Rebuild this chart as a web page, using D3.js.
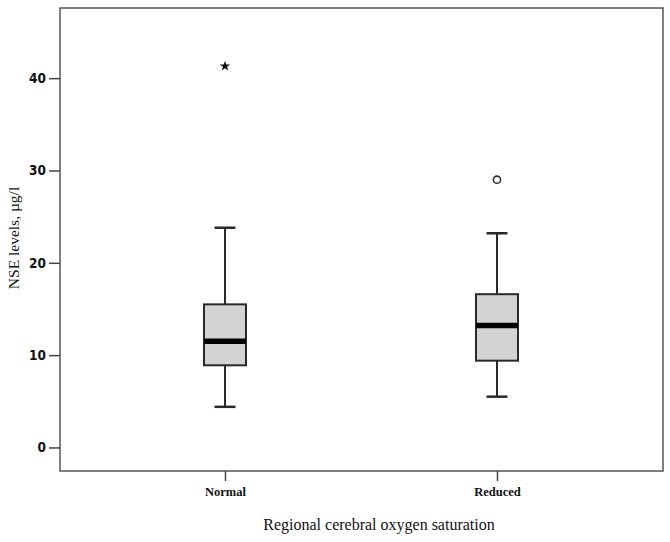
<!DOCTYPE html>
<html>
<head>
<meta charset="utf-8">
<script src="https://cdn.jsdelivr.net/npm/d3@7"></script>
<style>
  body { margin: 0; background: #fff; }
  svg { display: block; }
</style>
</head>
<body>
<svg id="chart" width="670" height="542"></svg>
<script>
// box statistics (ug/l)
var groups = ['Normal', 'Reduced'];
var whiskerLow = [4.4, 5.5];
var q1 = [8.9, 9.4];
var median = [11.5, 13.2];
var q3 = [15.5, 16.6];
var whiskerHigh = [23.8, 23.2];
// outliers: star = extreme, circle = mild
var outliers = [
  {group: 'Normal', value: 41.3, type: 'extreme'},
  {group: 'Reduced', value: 29.0, type: 'mild'}
];
var yTicks = [0, 10, 20, 30, 40];

var svg = d3.select('#chart');
var frame = {left: 60, top: 8, right: 663, bottom: 471};

var y = d3.scaleLinear()
  .domain([-2.55, 47.6])
  .range([frame.bottom, frame.top]);

var x = d3.scalePoint()
  .domain(groups)
  .range([225, 497]);

var boxW = 42;
var capW = 21;
var ink = '#2a2a2a';

var boxes = groups.map(function(g, i) {
  return {
    group: g,
    lo: whiskerLow[i],
    q1: q1[i],
    med: median[i],
    q3: q3[i],
    hi: whiskerHigh[i]
  };
});

// frame
svg.append('rect')
  .attr('x', frame.left)
  .attr('y', frame.top)
  .attr('width', frame.right - frame.left)
  .attr('height', frame.bottom - frame.top)
  .attr('fill', 'none')
  .attr('stroke', '#555')
  .attr('stroke-width', 1.5);

// y axis
var yAxis = d3.axisLeft(y)
  .tickValues(yTicks)
  .tickSize(11)
  .tickPadding(3);

var gy = svg.append('g')
  .attr('transform', 'translate(' + frame.left + ',0)')
  .call(yAxis);
gy.select('.domain').remove();
gy.selectAll('.tick line').attr('stroke', '#444').attr('stroke-width', 1.5);
gy.selectAll('.tick text')
  .attr('fill', '#111')
  .style('font-family', '"Liberation Sans Narrow", "DejaVu Sans Condensed", sans-serif')
  .style('font-stretch', 'condensed')
  .style('font-size', '13.5px')
  .style('font-weight', 'bold');

// x axis
var xAxis = d3.axisBottom(x)
  .tickSize(10)
  .tickPadding(6);

var gx = svg.append('g')
  .attr('transform', 'translate(0,' + frame.bottom + ')')
  .call(xAxis);
gx.select('.domain').remove();
gx.selectAll('.tick line').attr('stroke', '#444').attr('stroke-width', 1.5);
gx.selectAll('.tick text')
  .attr('fill', '#111')
  .style('font-family', 'Liberation Serif, Times New Roman, serif')
  .style('font-size', '12.5px')
  .style('font-weight', 'bold');

// axis titles
svg.append('text')
  .attr('x', 379)
  .attr('y', 530)
  .attr('text-anchor', 'middle')
  .style('font-family', 'Liberation Serif, Times New Roman, serif')
  .style('font-size', '16px')
  .attr('fill', '#111')
  .text('Regional cerebral oxygen saturation');

svg.append('text')
  .attr('transform', 'translate(19,238) rotate(-90)')
  .attr('text-anchor', 'middle')
  .style('font-family', 'Liberation Serif, Times New Roman, serif')
  .style('font-size', '15.5px')
  .attr('fill', '#111')
  .text('NSE levels, \u00b5g/l');

// boxes
var b = svg.selectAll('.box')
  .data(boxes)
  .enter()
  .append('g')
  .attr('class', 'box');

// whiskers
b.append('line')
  .attr('x1', function(d) { return x(d.group); })
  .attr('x2', function(d) { return x(d.group); })
  .attr('y1', function(d) { return y(d.hi); })
  .attr('y2', function(d) { return y(d.q3); })
  .attr('stroke', ink).attr('stroke-width', 2);
b.append('line')
  .attr('x1', function(d) { return x(d.group); })
  .attr('x2', function(d) { return x(d.group); })
  .attr('y1', function(d) { return y(d.q1); })
  .attr('y2', function(d) { return y(d.lo); })
  .attr('stroke', ink).attr('stroke-width', 2);

// caps
['hi', 'lo'].forEach(function(k) {
  b.append('line')
    .attr('x1', function(d) { return x(d.group) - capW / 2; })
    .attr('x2', function(d) { return x(d.group) + capW / 2; })
    .attr('y1', function(d) { return y(d[k]); })
    .attr('y2', function(d) { return y(d[k]); })
    .attr('stroke', ink).attr('stroke-width', 2.5);
});

b.append('rect')
  .attr('x', function(d) { return x(d.group) - boxW / 2; })
  .attr('y', function(d) { return y(d.q3); })
  .attr('width', boxW)
  .attr('height', function(d) { return y(d.q1) - y(d.q3); })
  .attr('fill', '#d3d3d3')
  .attr('stroke', ink)
  .attr('stroke-width', 2);

b.append('line')
  .attr('x1', function(d) { return x(d.group) - boxW / 2; })
  .attr('x2', function(d) { return x(d.group) + boxW / 2; })
  .attr('y1', function(d) { return y(d.med); })
  .attr('y2', function(d) { return y(d.med); })
  .attr('stroke', '#000')
  .attr('stroke-width', 5.5);

// outliers
var star = d3.symbol().type(d3.symbolStar).size(34);
svg.selectAll('.extreme')
  .data(outliers.filter(function(d) { return d.type === 'extreme'; }))
  .enter()
  .append('path')
  .attr('class', 'extreme')
  .attr('transform', function(d) { return 'translate(' + x(d.group) + ',' + y(d.value) + ')'; })
  .attr('d', star)
  .attr('fill', '#111');

svg.selectAll('.mild')
  .data(outliers.filter(function(d) { return d.type === 'mild'; }))
  .enter()
  .append('circle')
  .attr('class', 'mild')
  .attr('cx', function(d) { return x(d.group); })
  .attr('cy', function(d) { return y(d.value); })
  .attr('r', 3.6)
  .attr('fill', '#fff')
  .attr('stroke', '#333')
  .attr('stroke-width', 1.6);
</script>
</body>
</html>
